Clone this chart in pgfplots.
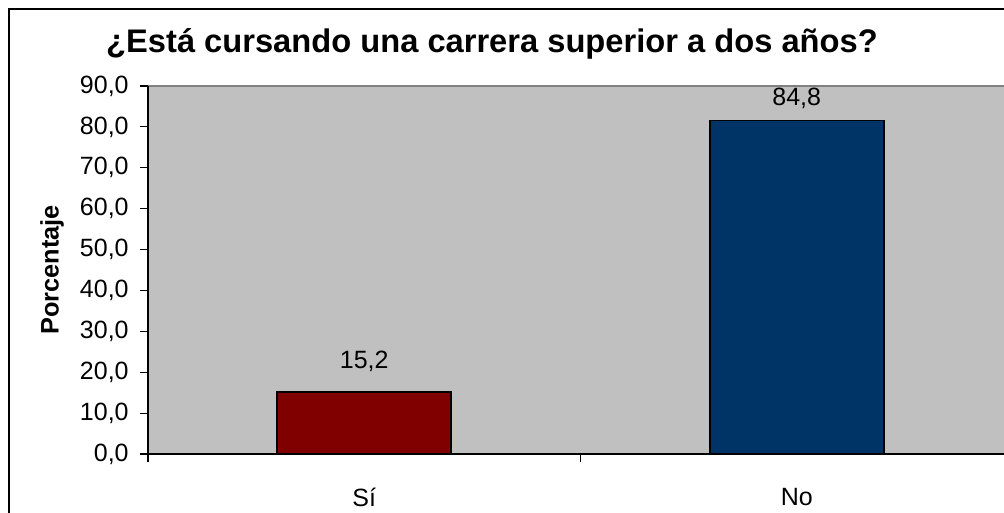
\documentclass[border=0pt]{standalone}
\usepackage{pgfplots}
\pgfplotsset{compat=1.18}
\usepackage{fontspec}
\setmainfont{Liberation Sans}
\definecolor{plotgray}{HTML}{C0C0C0}
\definecolor{plotborder}{HTML}{808080}
\definecolor{barred}{HTML}{800000}
\definecolor{barblue}{HTML}{003366}
\begin{document}
\begin{tikzpicture}
\path[use as bounding box, clip] (0pt,0pt) rectangle (753pt,384.75pt);
\draw[line width=1.6pt, black] (6.5pt,-20pt) -- (6.5pt,378pt) -- (790pt,378pt);
\node[font=\bfseries\fontsize{24.5}{28}\selectfont, anchor=base, inner sep=0pt] at (369pt,345pt) {¿Está cursando una carrera superior a dos años?};
\begin{axis}[
  at={(111pt,44.25pt)}, anchor=south west,
  scale only axis, width=648.75pt, height=276pt,
  xmin=-0.5, xmax=1.5, ymin=0, ymax=90,
  axis x line*=bottom, axis y line*=left,
  axis line style={black, line width=0.8pt},
  axis background/.style={fill=plotgray, draw=plotborder, line width=1.5pt},
  tick align=outside, major tick length=6pt, minor tick length=6pt,
  tick style={black, line width=0.8pt},
  ytick={0,10,...,90},
  xtick={0,1}, xticklabels={Sí,No},
  major x tick style={draw=none},
  minor xtick={-0.5,0.5,1.5},
  tick label style={font=\fontsize{18.75}{22}\selectfont},
  y tick label style={xshift=-5pt, /pgf/number format/.cd, fixed, fixed zerofill, precision=1, use comma, assume math mode=true},
  xticklabel style={yshift=-16pt},
  ylabel={Porcentaje},
  ylabel style={font=\bfseries\fontsize{19}{22}\selectfont, at={(axis description cs:-0.111,0.5)}, anchor=center},
  clip=false,
]
\addplot[ybar, bar shift=0pt, bar width=130.5pt, fill=barred, draw=black, line width=1.2pt,
  nodes near coords={15{,}2},
  nodes near coords style={anchor=south, inner sep=0pt, yshift=14.25pt, font=\fontsize{18.75}{22}\selectfont, black}]
  coordinates {(0,15.2)};
\addplot[ybar, bar shift=0pt, bar width=130.5pt, fill=barblue, draw=black, line width=1.2pt,
  nodes near coords={84{,}8},
  nodes near coords style={anchor=south, inner sep=0pt, yshift=8.25pt, font=\fontsize{18.75}{22}\selectfont, black}]
  coordinates {(1,81.6)};
\end{axis}
\end{tikzpicture}
\end{document}
